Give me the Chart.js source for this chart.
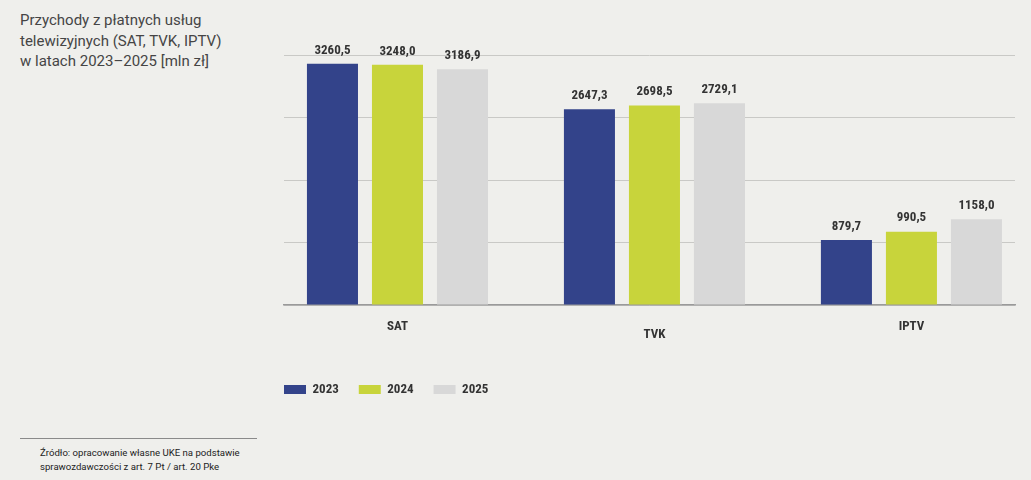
<!DOCTYPE html>
<html lang="pl">
<head>
<meta charset="utf-8">
<script src="https://cdn.jsdelivr.net/npm/chart.js@4.4.1/dist/chart.umd.min.js"></script>
<style>
  html, body { margin: 0; padding: 0; }
  body {
    width: 1031px; height: 480px; overflow: hidden; position: relative;
    background: #efefec;
    font-family: Roboto, "Noto Sans", sans-serif;
  }
  #title {
    position: absolute; left: 20px; top: 10px;
    font-size: 15px; line-height: 20.7px; color: #454545;
  }
  #rule {
    position: absolute; left: 20px; top: 438px; width: 237px; height: 0;
    border-top: 1px solid #8a8a8a;
  }
  #source {
    position: absolute; left: 40px; top: 446px;
    font-size: 9.6px; line-height: 13.5px; color: #222;
  }
  #wrap { position: absolute; left: 264px; top: 0; width: 767px; height: 420px; }
</style>
</head>
<body>
<div id="title">Przychody z płatnych usług<br>telewizyjnych (SAT, TVK, IPTV)<br>w latach 2023–2025 [mln zł]</div>
<div id="rule"></div>
<div id="source">Źródło: opracowanie własne UKE na podstawie<br>sprawozdawczości z art. 7 Pt / art. 20 Pke</div>
<div id="wrap"><canvas id="chart" width="767" height="420"></canvas></div>

<script>
const kategorie = ["SAT", "TVK", "IPTV"];
const lata = ["2023", "2024", "2025"];
const wartosci2023 = [3260.5, 2647.3, 879.7];
const wartosci2024 = [3248.0, 2698.5, 990.5];
const wartosci2025 = [3186.9, 2729.1, 1158.0];
const kolory = ["#33438a", "#c8d43b", "#d8d8d8"];

const condensed = '"Roboto Condensed", "Liberation Sans Narrow", "DejaVu Sans Condensed", sans-serif';
const wartosci = [wartosci2023, wartosci2024, wartosci2025];

// podpisy wartości nad słupkami
const etykiety = {
    id: "etykiety",
    afterDatasetsDraw(chart) {
        const ctx = chart.ctx;
        ctx.save();
        ctx.font = "bold 13px " + condensed;
        ctx.fillStyle = "#333";
        ctx.textAlign = "center";
        ctx.textBaseline = "bottom";
        chart.data.datasets.forEach((ds, i) => {
            chart.getDatasetMeta(i).data.forEach((bar, j) => {
                const txt = wartosci[i][j].toFixed(1).replace(".", ",");
                ctx.fillText(txt, bar.x, bar.y - 7);
            });
        });
        ctx.restore();
    }
};

new Chart(document.getElementById("chart"), {
    type: "bar",
    data: {
        datasets: lata.map((rok, i) => ({
            label: rok,
            data: wartosci[i].map((v, j) => ({ x: j, y: v })),
            backgroundColor: kolory[i],
            borderWidth: 0
        }))
    },
    options: {
        responsive: false,
        animation: false,
        devicePixelRatio: 1,
        layout: { padding: { left: 0, right: 16, top: 55, bottom: 14 } },
        datasets: {
            bar: { categoryPercentage: 0.759, barPercentage: 0.785 }
        },
        scales: {
            x: {
                type: "linear",
                offset: false,
                min: -0.4416,
                max: 2.403,
                afterBuildTicks: (s) => { s.ticks = kategorie.map((k, j) => ({ value: j })); },
                afterFit: (s) => { s.height += 6; },
                grid: { display: false },
                border: { display: true, color: "#9a9a9a", width: 1.5 },
                ticks: {
                    color: "#333",
                    padding: 6,
                    callback: (v) => kategorie[v],
                    font: (c) => ({
                        family: condensed,
                        size: 13,
                        weight: "bold",
                        lineHeight: c.index === 1 ? "32px" : "16px"
                    })
                }
            },
            y: {
                min: 0,
                max: 3380,
                afterFit: (s) => { s.width = 20; },
                ticks: { display: false, stepSize: 845 },
                border: { display: false },
                grid: { color: "#c9c9c6", lineWidth: 1, drawTicks: false }
            }
        },
        plugins: {
            tooltip: { enabled: false },
            legend: {
                position: "bottom",
                align: "start",
                labels: {
                    boxWidth: 22,
                    boxHeight: 9,
                    padding: 20,
                    color: "#333",
                    font: { family: condensed, size: 13, weight: "bold" }
                }
            }
        }
    },
    plugins: [etykiety]
});
</script>
</body>
</html>
